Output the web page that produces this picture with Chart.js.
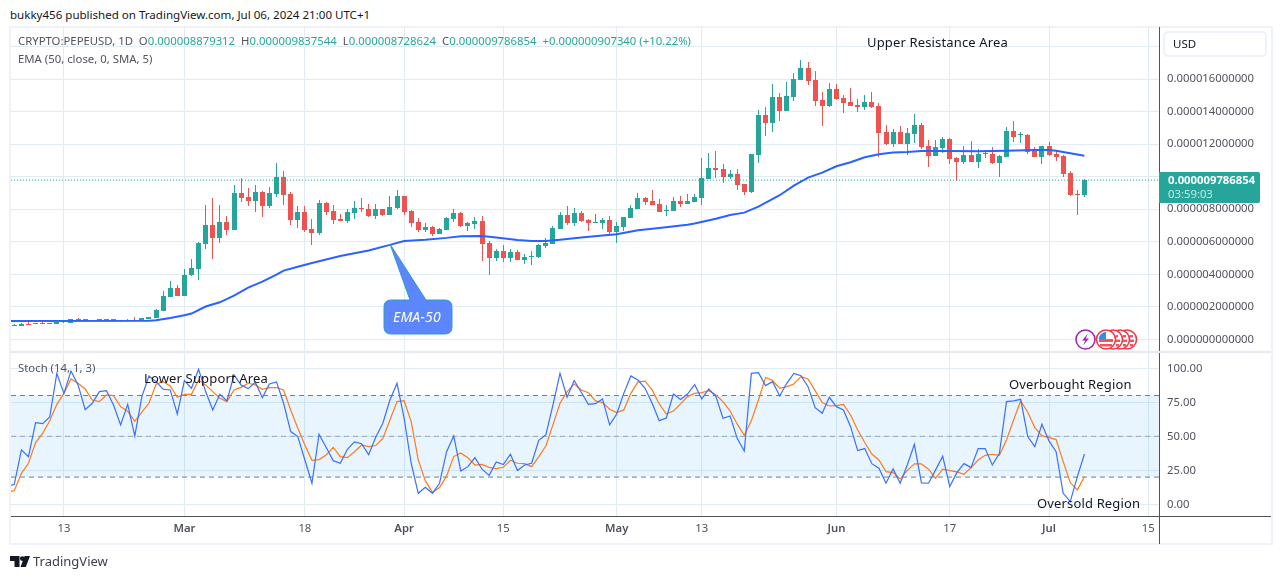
<!DOCTYPE html>
<html>
<head>
<meta charset="utf-8">
<title>PEPEUSD</title>
<script src="https://cdn.jsdelivr.net/npm/chart.js@4"></script>
<style>
  html, body { margin: 0; padding: 0; background: #fff; overflow: hidden; }
  body { width: 1281px; height: 579px; position: relative; font-family: "Noto Sans", sans-serif; }
  canvas { position: absolute; left: 0; }
  .txt { position: absolute; white-space: pre; line-height: 16px; }
  .frame { position: absolute; left: 9px; top: 26px; width: 1264px; height: 519px; box-sizing: border-box; border: 2px solid #eff2f8; }
  .rule { position: absolute; background: #50535e; }
  .note { color: #131722; font-size: 13px; letter-spacing: 0.15px; }
  .leg { color: #50535e; font-size: 11.35px; }
  .val { color: #26a69a; }
  #usd { position: absolute; left: 1163px; top: 31px; width: 104px; height: 26px; box-sizing: border-box; border: 2px solid #eff2f8; border-radius: 5px; font-size: 11.5px; color: #131722; line-height: 22px; padding-left: 8px; }
  #tag { position: absolute; left: 1159px; top: 172px; width: 101px; height: 31px; background: #26a69a; color: #fff; border-radius: 0 2px 2px 0; font-size: 11.3px; }
  #tag div { position: absolute; left: 9px; white-space: pre; line-height: 14px; }
  svg { position: absolute; overflow: visible; }
</style>
</head>
<body>
<div class="frame"></div>
<canvas id="priceChart" width="1281" height="325" style="top:27px"></canvas>
<canvas id="stochChart" width="1281" height="193" style="top:352px"></canvas>
<div class="rule" style="left:1159px;top:27px;width:1px;height:517px"></div>
<div class="rule" style="left:11px;top:516px;width:1260px;height:1px"></div>
<div style="position:absolute;left:11px;top:351px;width:1260px;height:2px;background:#e6e9f0"></div>

<div class="txt" id="header" style="left:10px;top:7px;font-size:11.55px;color:#131722">bukky456 published on TradingView.com, Jul 06, 2024 21:00 UTC+1</div>
<div class="txt leg" id="legend" style="left:18px;top:33px">CRYPTO:PEPEUSD, 1D  O<span class="val">0.000008879312</span>  H<span class="val">0.000009837544</span>  L<span class="val">0.000008728624</span>  C<span class="val">0.000009786854</span>  <span class="val">+0.000000907340 (+10.22%)</span></div>
<div class="txt leg" style="left:18px;top:51px">EMA (50, close, 0, SMA, 5)</div>
<div class="txt leg" style="left:18px;top:360px">Stoch (14, 1, 3)</div>
<div class="txt note" style="left:867px;top:34px">Upper Resistance Area</div>
<div class="txt note" style="left:144px;top:370px">Lower Support Area</div>
<div class="txt note" style="left:1009px;top:376px">Overbought Region</div>
<div class="txt note" style="left:1037px;top:495px">Oversold Region</div>
<div id="usd">USD</div>
<div id="tag"><div style="top:1px;font-weight:700">0.000009786854</div><div style="top:15px;color:#c4e8e4">03:59:03</div></div>

<!-- callout EMA-50 -->
<svg style="left:0;top:0" width="1281" height="579">
  <path d="M390 244 L410 300 L391 300 Q384 300 384 307 L384 327 Q384 334 391 334 L445 334 Q452 334 452 327 L452 307 Q452 300 445 300 L426 300 Z" fill="#5b86fd" stroke="#2f9acb" stroke-width="1"/>
  <!-- events -->
  <g stroke="#f23645" stroke-width="1.6" fill="#fff">
    <circle cx="1127" cy="339.5" r="9.5"/><circle cx="1120" cy="339.5" r="9.5"/><circle cx="1113" cy="339.5" r="9.5"/><circle cx="1106" cy="339.5" r="9.5"/>
  </g>
  <g fill="#f7525f">
    <rect x="1099" y="339" width="14" height="3"/><rect x="1100" y="344" width="12" height="2.5"/>
    <rect x="1116" y="335" width="2" height="2.5"/><rect x="1116" y="339.5" width="4" height="2.5"/><rect x="1116" y="344" width="3" height="2.5"/>
    <rect x="1123" y="335" width="3" height="2.5"/><rect x="1123" y="339.5" width="4" height="2.5"/><rect x="1123" y="344" width="3" height="2.5"/>
    <rect x="1130" y="335" width="3" height="2.5"/><rect x="1130" y="339.5" width="4" height="2.5"/><rect x="1130" y="344" width="3" height="2.5"/>
  </g>
  <path d="M1098.5 339 A8 8 0 0 1 1106 332 L1106 339 Z" fill="#2f8fe6"/>
  <circle cx="1085.5" cy="339.5" r="9.5" fill="#fff" stroke="#9c27b0" stroke-width="1.6"/>
  <path d="M1088 333.5 L1082 340.5 L1085.3 340.5 L1083 345.5 L1089 338.5 L1085.7 338.5 Z" fill="#9c27b0"/>
  <!-- logo -->
  <path d="M10 556 H19.5 V567 H14.5 V561 H10 Z" fill="#131722"/>
  <circle cx="22.3" cy="558.6" r="2.4" fill="#131722"/>
  <path d="M24.6 556 H30 L25.8 567 H20.5 Z" fill="#131722"/>
</svg>
<div class="txt" style="left:393px;top:309px;font-size:14px;font-style:italic;color:#fff;letter-spacing:.2px">EMA-50</div>
<div class="txt" style="left:33px;top:553px;font-size:13px;color:#3d4048">TradingView</div>

<script>
// precios en millonesimas de USD, un valor por dia desde el 6 de febrero
const opens = [
  .84,.85,.97,.97,1.03,1.01,.97,1.05,1.03,1.26,
  1.26,1.13,1.18,1.18,1.26,1.2,1.13,1.2,1.11,1.26,
  1.32,1.75,2.61,3.16,2.67,3.96,4.33,5.87,7.03,6.24,
  7.22,6.73,9.0,8.76,8.51,9.06,8.2,8.94,9.99,8.94,
  7.34,7.83,6.79,6.54,8.39,7.9,7.4,7.28,7.77,8.08,
  8.02,7.59,8.02,7.65,8.08,8.82,7.9,7.22,6.73,6.91,
  6.48,6.73,7.4,7.77,6.97,7.1,7.28,5.93,5.01,5.44,
  5.01,5.38,4.88,5.11,5.07,5.75,5.87,6.79,7.65,7.16,
  7.77,7.34,7.18,7.16,7.34,6.6,6.91,7.47,8.02,8.69,
  8.51,8.32,7.92,7.9,8.51,8.32,8.45,8.69,9.86,10.54,
  10.48,9.98,10.17,9.55,9.06,11.34,13.8,13.3,14.9,14.04,
  14.9,15.95,16.68,15.95,14.72,14.35,15.39,14.84,14.59,14.41,
  14.29,14.59,14.35,12.75,12.01,12.75,12.01,12.63,13.18,11.89,
  11.27,11.77,12.32,11.15,10.9,11.33,10.9,11.39,11.39,10.84,
  11.21,12.81,12.57,12.57,11.58,11.21,11.89,11.39,11.27,10.23,
  8.94,8.879];
const highs = [
  .97,1.0,1.06,1.01,1.09,1.01,1.09,1.11,1.26,1.32,
  1.26,1.18,1.26,1.26,1.26,1.2,1.26,1.38,1.32,1.38,
  1.88,2.98,3.6,3.35,4.33,4.95,5.97,8.26,8.7,8.26,
  7.59,9.5,9.92,9.31,9.5,9.12,9.35,10.84,10.36,9.06,
  8.2,8.2,7.4,8.57,8.47,8.26,7.71,8.0,8.51,8.7,
  8.33,8.33,8.02,8.8,9.18,8.82,7.96,7.47,7.16,7.0,
  6.85,7.53,8.02,7.83,7.22,7.53,7.59,6.03,5.58,5.81,
  5.56,5.48,5.27,5.44,5.87,6.24,7.0,7.83,8.2,8.08,
  7.9,7.41,7.71,7.47,7.59,7.2,7.53,8.26,9.0,8.76,
  9.18,8.63,8.27,8.76,8.82,8.94,8.94,11.14,11.46,11.58,
  10.77,10.41,10.48,9.55,11.4,14.1,14.3,15.7,15.15,15.82,
  16.38,17.18,17.05,16.5,15.2,15.76,15.7,15.01,15.45,14.75,
  15.01,15.2,14.53,13.18,12.92,13.12,13.0,13.86,13.29,12.24,
  12.24,12.45,12.38,11.21,11.89,12.2,11.68,11.62,11.82,11.33,
  13.08,13.42,12.73,12.63,11.83,11.89,12.14,11.64,11.33,10.35,
  9.18,9.838];
const lows = [
  .84,.85,.91,.97,.97,.97,.97,1.03,1.01,1.18,
  1.11,1.13,1.15,1.18,1.1,1.09,1.11,1.11,1.11,1.26,
  1.32,1.75,2.61,2.67,2.67,3.9,3.65,5.56,4.95,5.93,
  6.42,6.73,8.45,8.22,7.85,7.53,8.08,8.78,8.26,7.03,
  6.85,6.62,5.81,6.42,7.67,7.1,7.28,7.18,7.41,7.85,
  7.53,7.41,7.59,7.65,8.04,7.67,6.91,6.62,6.61,6.36,
  6.48,6.73,7.22,6.91,6.67,6.79,4.82,3.96,4.82,4.78,
  4.78,4.88,4.64,4.58,5.01,5.64,5.87,6.79,7.03,7.0,
  7.22,6.69,7.18,6.79,6.39,5.94,6.67,7.47,8.02,8.27,
  8.26,7.83,7.6,7.9,8.14,8.32,8.45,8.27,9.86,9.92,
  9.62,9.88,9.19,8.88,8.98,10.85,12.51,12.75,13.43,14.04,
  14.65,15.95,15.64,14.35,13.12,14.29,14.72,13.92,14.35,13.98,
  14.1,14.23,11.22,11.95,11.83,12.01,11.35,12.07,11.69,10.6,
  11.27,11.46,10.78,9.75,10.78,10.9,10.54,11.15,10.78,9.98,
  11.21,12.14,12.07,11.39,11.21,10.8,11.27,10.97,9.98,8.84,
  7.65,8.729];
const closes = [
  .88,.97,.91,1.01,.97,.97,1.09,1.11,1.26,1.2,
  1.11,1.18,1.26,1.26,1.18,1.11,1.2,1.11,1.32,1.38,
  1.81,2.67,3.16,2.67,3.96,4.39,5.93,7.03,6.24,7.22,
  6.73,9.0,8.69,8.51,9.06,8.2,9.0,9.99,8.88,7.34,
  7.83,6.73,6.54,8.39,7.83,7.34,7.28,7.83,8.08,8.02,
  7.59,8.02,7.65,8.14,8.82,7.83,7.16,6.73,6.91,6.48,
  6.79,7.47,7.77,6.97,7.16,7.28,5.87,5.01,5.44,5.01,
  5.38,4.88,5.07,5.15,5.81,5.93,6.85,7.65,7.16,7.77,
  7.28,7.18,7.22,7.34,6.6,6.97,7.53,8.08,8.69,8.45,
  8.26,7.83,7.96,8.51,8.32,8.51,8.76,9.92,10.54,10.41,
  9.98,10.17,9.49,9.06,11.4,13.8,13.3,14.9,14.04,14.96,
  16.0,16.68,15.89,14.66,14.35,15.39,14.78,14.53,14.35,14.29,
  14.59,14.29,12.69,12.01,12.75,12.01,12.69,13.18,11.83,11.27,
  11.83,12.32,11.09,10.9,11.33,10.9,11.39,11.43,10.84,11.27,
  12.81,12.44,12.61,11.52,11.21,11.89,11.33,11.21,10.17,8.88,
  8.9,9.787];

const emaDays = [-1,19,20,22,24,25,27,29,31,33,35,37,38,40,42,46,50,53,55,58,61,63,66,68,71,73,75,77,80,83,85,88,91,95,96,99,101,103,105,108,110,112,114,116,118,120,122,124,126,128,132,136,140,144,146,147,149,151];
const emaValues = [1.13,1.15,1.18,1.32,1.48,1.59,2.02,2.28,2.69,3.18,3.55,3.98,4.23,4.47,4.7,5.13,5.46,5.81,6.05,6.13,6.24,6.34,6.36,6.26,6.11,6.05,6.05,6.13,6.26,6.38,6.46,6.71,6.85,7.05,7.12,7.42,7.65,7.79,8.16,8.86,9.45,9.94,10.25,10.64,10.89,11.19,11.38,11.48,11.52,11.58,11.58,11.56,11.6,11.64,11.64,11.6,11.44,11.29];

// estocastico, empieza un dia antes de la primera vela
const stochK = [13,
  14.7,40,35,60,59.3,64.2,96.3,81.6,98,87.8,
  69.6,74.3,82.9,83.6,73,58.4,73.5,50.3,79.2,94.4,
  90.2,84.6,84.1,66.4,91,85.3,99.3,82.9,69.4,80.9,
  76,95.1,87.8,85.1,89.7,78.5,88.5,90,74.3,53.5,
  49.8,32.6,15.5,51.5,41.9,32.1,30.2,40.5,45.9,44.6,
  36.5,49.3,59.6,76.7,89,63.3,30.2,8.1,12.5,8.1,
  15.5,38.7,50.3,24.5,27.7,34.3,25.8,21.3,31.1,29.2,
  36.8,24.8,28.9,30.2,47.1,51,73,96.3,78.7,91,
  82.4,73.5,74,77.5,58.4,66.4,81.6,94.4,91.4,85.3,
  74.3,61.5,63.5,81.1,77,81.1,88,77.5,84.8,79.2,
  63.3,65,48.5,39.2,96.3,96.8,87.3,90.2,79.7,89,
  96.3,94.6,86.5,71.1,66.9,78.7,71.8,69.4,57.1,39.5,
  41,29.9,26.5,15.5,26,15.5,28.9,44.1,15.7,15.5,
  25.3,35.3,13,23.3,29.9,27,41,41,28.9,37.5,
  75.5,76,77.2,49.8,42.4,58.8,46.6,38.7,8.1,2,
  20.4,37];
const stochD = [9,
  10,22.8,30.2,45.4,52.2,61.5,73.5,81.6,92.2,89,
  84.8,76.7,75.5,80.4,79.9,71.8,68.4,61,67.7,74.3,
  88.3,90.2,87,78.7,80.9,80.9,91.4,87.8,82.9,78,
  75.5,84.1,86,89,87.8,84.6,85.8,85.8,84.1,69.4,
  55.9,43.6,32.4,32.9,36.3,41.9,35.1,34.3,38.7,43.6,
  42.4,43.2,48.5,62,75.5,76.2,60.8,32.6,17.2,8.8,
  12.3,20.9,35.1,37.8,34.3,28.9,29.4,27.2,26.2,27.2,
  32.4,30.2,29.9,27.7,35.1,42.9,58.4,74.3,82.9,88.5,
  84.1,82.1,76,74.8,69.9,67.4,69.4,81.6,90,90.5,
  84.1,73.8,66.4,68.6,73.8,79.2,81.6,82.1,83.6,80.4,
  75.5,68.6,59.1,50.8,61.5,76.7,93.2,91,85.3,86.5,
  88.5,93.9,92.2,83.6,74.8,72.3,72.6,73.5,65.7,54.7,
  45.4,37,32.6,24,23.3,18.6,24.8,29.7,29.7,25.8,
  19.1,25.8,24.8,23.8,22.1,27,32.6,36,36.8,36,
  47.3,62,76,67.7,56.4,50.5,49,47.6,31.4,16,
  10.6,20.4];

const lastPrice = 9.786854;
const bandTop = 80, bandMid = 50, bandBottom = 20;

const tickDays = [7, 24, 41, 55, 69, 85, 97, 116, 132, 146, 160];
const tickLabels = ['13', 'Mar', '18', 'Apr', '15', 'May', '13', 'Jun', '17', 'Jul', '15'];
const monthLabels = ['Mar', 'Apr', 'May', 'Jun', 'Jul'];

const priceTicks = [0, 2, 4, 6, 8, 10, 12, 14, 16, 18];
const priceTickLabels = ['0.000000000000', '0.000002000000', '0.000004000000', '0.000006000000', '0.000008000000', '', '0.000012000000', '0.000014000000', '0.000016000000', ''];
const stochTicks = [0, 25, 50, 75, 100];
const stochTickLabels = ['0.00', '25.00', '50.00', '75.00', '100.00'];

const upColor = '#26a69a';
const downColor = '#ef5350';
const gridColor = '#e1ecf2';
const axisText = '#50535e';
const xMin = -0.466, xMax = 161.52;

const candleColor = closes.map((c, i) => c >= opens[i] ? upColor : downColor);

// velas nitidas: TradingView las pega al pixel
const snapBars = {
  id: 'snapBars',
  beforeDatasetsDraw(chart) {
    chart.getSortedVisibleDatasetMetas().forEach(meta => {
      if (meta.type !== 'bar') return;
      meta.data.forEach(el => {
        el.x = Math.floor(el.x) + 0.5;
        const top = Math.round(el.y);
        let bottom = Math.round(el.base);
        if (bottom === top) bottom = top + 1;
        el.y = top;
        el.base = bottom;
      });
    });
  }
};

function isMonth(ctx) {
  return !!ctx.tick && monthLabels.includes(ctx.tick.label);
}

// sin margenes extra por las etiquetas, el area del grafico ocupa todo el panel
function noPadding(axis) {
  axis.paddingTop = 0;
  axis.paddingBottom = 0;
  axis.paddingLeft = 0;
  axis.paddingRight = 0;
}

function xAxis(showLabels) {
  return {
    type: 'linear',
    offset: false,
    min: xMin,
    max: xMax,
    afterBuildTicks: axis => { axis.ticks = tickDays.map(value => ({ value })); },
    afterFit: axis => { axis.height = showLabels ? 29 : 0; noPadding(axis); },
    grid: { color: gridColor, drawTicks: false, offset: false },
    border: { display: false },
    ticks: {
      display: showLabels,
      autoSkip: false,
      maxRotation: 0,
      padding: 6,
      color: axisText,
      font: ctx => ({ family: '"Noto Sans"', size: 11.3, weight: isMonth(ctx) ? '600' : '400' }),
      callback: value => tickLabels[tickDays.indexOf(value)]
    }
  };
}

function yAxis(min, max, values, labels) {
  return {
    position: 'right',
    min,
    max,
    afterBuildTicks: axis => { axis.ticks = values.map(value => ({ value })); },
    afterFit: axis => { axis.width = 122; noPadding(axis); },
    grid: { color: gridColor, drawTicks: false },
    border: { display: false },
    ticks: {
      autoSkip: false,
      padding: 8,
      color: axisText,
      font: { family: '"Noto Sans"', size: 11.3 },
      callback: value => labels[values.indexOf(value)]
    }
  };
}

const flatLine = y => [{ x: xMin, y }, { x: xMax, y }];
const baseOptions = {
  responsive: false,
  animation: false,
  events: [],
  layout: { padding: { left: 11, right: 0, top: 0, bottom: 0 } },
  plugins: { legend: { display: false }, tooltip: { enabled: false } }
};

new Chart(document.getElementById('priceChart'), {
  type: 'bar',
  data: {
    datasets: [
      {
        type: 'line', label: 'Last', order: 0,
        data: flatLine(lastPrice),
        borderColor: upColor, borderWidth: 1, borderDash: [1, 2], pointRadius: 0
      },
      {
        type: 'line', label: 'EMA', order: 1,
        data: emaDays.map((x, i) => ({ x, y: emaValues[i] })),
        borderColor: '#2962ff', borderWidth: 2, pointRadius: 0, tension: 0
      },
      {
        label: 'Body', order: 2, grouped: false,
        data: opens.map((o, i) => ({ x: i, y: [o, closes[i]] })),
        backgroundColor: candleColor, barThickness: 5, inflateAmount: 0, borderWidth: 0
      },
      {
        label: 'Wick', order: 3, grouped: false,
        data: lows.map((l, i) => ({ x: i, y: [l, highs[i]] })),
        backgroundColor: candleColor, barThickness: 1, inflateAmount: 0, borderWidth: 0
      }
    ]
  },
  options: {
    ...baseOptions,
    scales: { x: xAxis(false), y: yAxis(-0.774, 19.2, priceTicks, priceTickLabels) }
  },
  plugins: [snapBars]
});

new Chart(document.getElementById('stochChart'), {
  type: 'line',
  data: {
    datasets: [
      {
        label: '%K', order: 0,
        data: stochK.map((y, i) => ({ x: i - 1, y })),
        borderColor: '#3a6fff', borderWidth: 1.2, pointRadius: 0
      },
      {
        label: '%D', order: 1,
        data: stochD.map((y, i) => ({ x: i - 1, y })),
        borderColor: '#ff7a1a', borderWidth: 1.2, pointRadius: 0
      },
      {
        label: 'Upper', order: 2,
        data: flatLine(bandTop),
        borderColor: '#787b86', borderWidth: 1, borderDash: [5, 4], pointRadius: 0,
        fill: { value: bandBottom }, backgroundColor: 'rgba(33,150,243,0.1)'
      },
      {
        label: 'Middle', order: 2,
        data: flatLine(bandMid),
        borderColor: 'rgba(120,123,134,0.6)', borderWidth: 1, borderDash: [5, 4], pointRadius: 0
      },
      {
        label: 'Lower', order: 2,
        data: flatLine(bandBottom),
        borderColor: '#787b86', borderWidth: 1, borderDash: [5, 4], pointRadius: 0
      }
    ]
  },
  options: {
    ...baseOptions,
    scales: { x: xAxis(true), y: yAxis(-8.6, 112, stochTicks, stochTickLabels) }
  }
});
</script>
</body>
</html>
